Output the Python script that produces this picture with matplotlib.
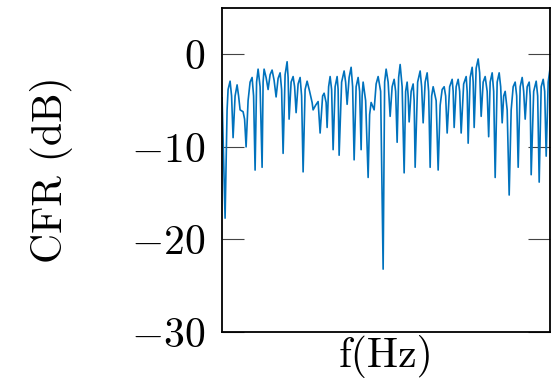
import numpy as np
import matplotlib
matplotlib.use("Agg")
import matplotlib.pyplot as plt

plt.rcParams['font.family'] = 'serif'
plt.rcParams['font.serif'] = ['cmr10']
plt.rcParams['mathtext.fontset'] = 'cm'
plt.rcParams['axes.formatter.use_mathtext'] = True

# channel frequency response, sampled across the band (arbitrary freq units)
freq = [0, 1, 3, 5, 6, 8, 9.5, 11, 13, 15, 16.5, 18, 21, 22.5, 24, 26, 28, 30,
        31.5, 33, 34.5, 36, 38, 40, 41, 42, 44, 46, 48, 50, 52, 54, 56, 58,
        59.5, 61, 63, 65, 66, 67, 69, 71, 72.5, 74, 76, 78, 79.5, 81, 83, 85,
        87.5, 90, 91, 93.5, 96, 98, 100.5, 102, 104, 105, 106.5, 108, 109.5,
        111, 113, 115, 116, 117, 119.5, 122, 123.5, 125, 127, 129, 130.5, 132,
        134, 136, 137.5, 139, 140, 141, 143.5, 146, 147.5, 149, 152, 154, 156,
        158.5, 161, 162.5, 164, 166, 168, 170, 172, 173.5, 175, 176.5, 178,
        180, 182, 183.5, 185, 186, 187, 189, 191, 192, 193, 195.5, 198, 199.5,
        201, 203, 205, 206.5, 208, 209.5, 211, 214, 216, 218, 220, 222, 223.5,
        225, 227.5, 230, 231, 232, 234, 236, 237.5, 239, 241.5, 244, 245, 246,
        248, 250, 251, 252, 254, 256, 257.5, 259, 261, 263, 265, 266.5, 268,
        270, 271.5, 273, 275, 277, 278.5, 280, 281.5, 283, 285, 287, 289, 291,
        293, 294.5, 296, 298, 300, 301.5, 303, 305, 307, 308, 309, 311.5, 314,
        315.5, 317, 319, 321, 322.5, 324, 326, 328]
cfr_db = [-4.7, -9.0, -17.7, -6.0, -3.8, -2.9, -4.5, -9.0, -4.5, -3.3, -4.5,
          -6.0, -6.2, -7.0, -10.0, -5.0, -3.0, -2.5, -4.5, -12.5, -3.0, -1.6,
          -3.5, -12.2, -3.0, -1.6, -2.5, -3.8, -2.2, -1.7, -2.8, -4.6, -2.6,
          -2.0, -3.8, -10.7, -2.2, -0.8, -2.5, -7.0, -3.0, -2.4, -3.5, -6.3,
          -3.2, -2.5, -4.5, -12.7, -3.8, -2.9, -4.0, -5.2, -6.0, -5.5, -5.1,
          -8.5, -4.5, -4.2, -5.2, -7.9, -3.5, -2.4, -3.8, -10.3, -3.5, -2.4,
          -3.8, -10.9, -3.0, -1.8, -3.0, -5.4, -2.5, -1.4, -3.5, -11.4, -3.5,
          -2.5, -4.0, -10.3, -4.5, -3.0, -5.0, -13.3, -6.5, -5.2, -6.0, -3.2,
          -2.4, -4.0, -23.2, -3.0, -1.6, -3.0, -6.7, -3.5, -2.7, -4.0, -9.5,
          -2.5, -1.1, -3.5, -12.8, -4.0, -3.0, -4.5, -7.3, -4.0, -3.2, -5.0,
          -12.2, -3.0, -1.8, -3.5, -7.4, -3.0, -2.0, -4.0, -12.2, -4.5, -3.5,
          -5.0, -12.5, -5.5, -3.8, -3.5, -4.5, -8.5, -3.5, -2.7, -4.0, -7.9,
          -3.5, -2.7, -4.0, -8.5, -3.2, -2.4, -4.0, -9.6, -2.5, -1.4, -3.0,
          -7.9, -1.5, -0.5, -2.0, -6.7, -3.0, -2.4, -4.0, -8.9, -3.0, -2.0,
          -4.0, -13.3, -3.0, -2.0, -3.5, -7.4, -4.5, -4.0, -6.0, -15.2, -6.0,
          -3.5, -3.0, -4.5, -12.2, -3.5, -2.5, -4.0, -7.0, -3.5, -3.0, -4.5,
          -13.0, -4.0, -2.9, -4.5, -13.8, -3.5, -2.7, -4.0, -11.0, -3.0, -1.4]

yticks = [0, -10, -20, -30]

fig = plt.figure(figsize=(5.58, 3.83), dpi=100)
ax = fig.add_axes([0.398, 0.133, 0.588, 0.846])

ax.plot(freq, cfr_db, color='#0072BD', lw=1.2)

ax.set_xlim(0, 328)
ax.set_ylim(-30, 5)
ax.set_xticks([])
ax.set_yticks(yticks)
ax.tick_params(axis='y', direction='in', length=16, width=0.8, color='#444444',
               left=True, right=True, labelsize=30, pad=12)
for s in ax.spines.values():
    s.set_linewidth(1.3)

ax.set_ylabel('CFR (dB)', fontsize=30, labelpad=42)
ax.set_xlabel('f(Hz)', fontsize=30, labelpad=2)

fig.savefig('out.png', dpi=100)
